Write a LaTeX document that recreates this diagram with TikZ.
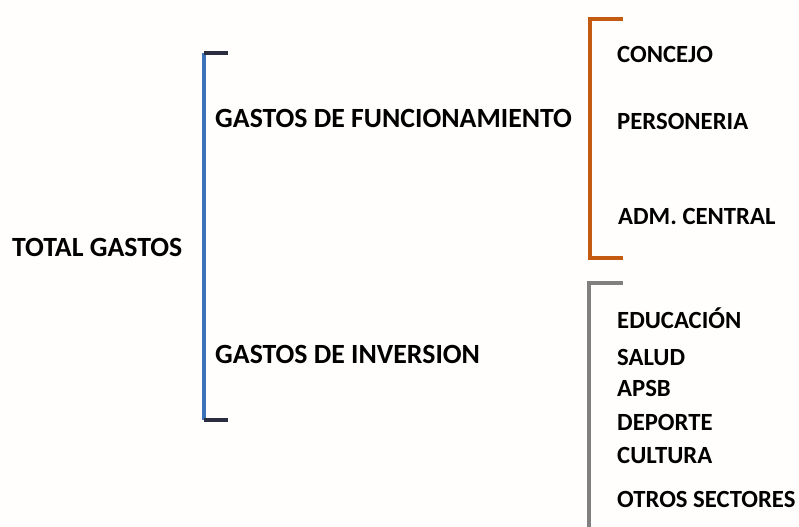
\documentclass[tikz,border=0pt]{standalone}
\usepackage{fontspec}
\setmainfont{Carlito}
\definecolor{azul}{HTML}{3C72B8}
\definecolor{oscuro}{HTML}{2A2E3E}
\definecolor{naranja}{HTML}{C55A11}
\definecolor{gris}{HTML}{808080}
\tikzset{
  grande/.style={anchor=base west,inner sep=0pt,font=\fontsize{27.8bp}{32bp}\selectfont\bfseries},
  chico/.style={anchor=base west,inner sep=0pt,font=\fontsize{24.7bp}{29bp}\selectfont\bfseries},
  llave/.style={line width=3.5bp}
}
\begin{document}
\begin{tikzpicture}[x=1bp,y=-1bp]
\fill[white!99!orange] (0,0) rectangle (799,527);
\useasboundingbox (0,0) rectangle (799,527);
% textos de la izquierda
\node[grande] (total) at (12,257) {TOTAL GASTOS};
\node[grande] (func) at (215,128) {GASTOS DE FUNCIONAMIENTO};
\node[grande] (inv) at (215,363) {GASTOS DE INVERSION};
% funcionamiento
\node[chico] (concejo) at (617,63) {CONCEJO};
\node[chico] (personeria) at (617,130) {PERSONERIA};
\node[chico] (adm) at (618,225) {ADM. CENTRAL};
% inversion
\node[chico] (educ) at (617,328) {EDUCACIÓN};
\node[chico] (salud) at (617,365) {SALUD};
\node[chico] (apsb) at (617,396) {APSB};
\node[chico] (deporte) at (617,430) {DEPORTE};
\node[chico] (cultura) at (617,463) {CULTURA};
\node[chico] (otros) at (617,507) {OTROS SECTORES};
% llaves
\draw[llave,azul] (204,53) -- (204,420);
\draw[llave,oscuro] (204,53) -- (228,53);
\draw[llave,oscuro] (204,420) -- (228,420);
\draw[llave,naranja,line join=miter] (623,19) -- (590,19) -- (590,258) -- (623,258);
\draw[llave,gris,line join=miter] (623,283) -- (589,283) -- (589,530);
\end{tikzpicture}
\end{document}
